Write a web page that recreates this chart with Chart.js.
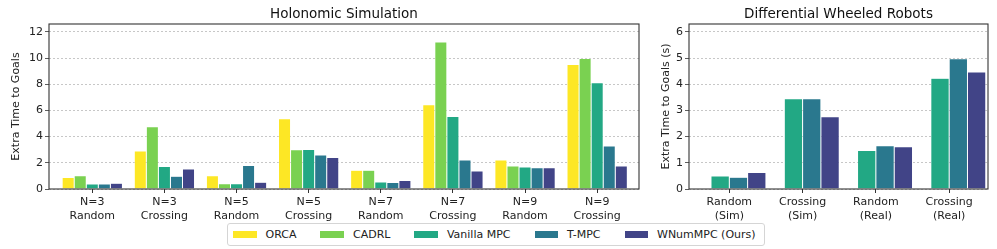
<!DOCTYPE html>
<html>
<head>
<meta charset="utf-8">
<script src="https://cdn.jsdelivr.net/npm/chart.js@4"></script>
<style>
  body { margin: 0; background: #fff; }
  #wrap { position: relative; width: 997px; height: 249px; }
  canvas { position: absolute; top: 0; }
  #legend {
    position: absolute; left: 227px; top: 223px; height: 21px;
    border: 1px solid #d5d5d5; border-radius: 3px; background: #fff;
    display: flex; align-items: center; padding: 0 8px 0 5px;
    font: 11px "DejaVu Sans"; color: #222; white-space: nowrap;
  }
  .item { display: flex; align-items: center; margin-right: 24px; }
  .item:last-child { margin-right: 0; }
  .sw { width: 23.5px; height: 6.5px; margin-right: 9px; }
</style>
</head>
<body>
<div id="wrap">
  <canvas id="holo" width="645" height="249" style="left:0"></canvas>
  <canvas id="diff" width="352" height="249" style="left:645px"></canvas>
  <div id="legend"></div>
</div>
<script>
// methods + colours (viridis)
const methods = ['ORCA', 'CADRL', 'Vanilla MPC', 'T-MPC', 'WNumMPC (Ours)'];
const colors = ['#fde725', '#7ad151', '#22a884', '#2a788e', '#414487'];

// holonomic simulation
const holoLabels = [['N=3', 'Random'], ['N=3', 'Crossing'], ['N=5', 'Random'], ['N=5', 'Crossing'],
                    ['N=7', 'Random'], ['N=7', 'Crossing'], ['N=9', 'Random'], ['N=9', 'Crossing']];
const holoOrca    = [0.87, 2.91, 1.02, 5.36, 1.43, 6.43, 2.22, 9.50];
const holoCadrl   = [1.02, 4.75, 0.41, 2.99, 1.43, 11.23, 1.76, 9.96];
const holoVanilla = [0.38, 1.71, 0.41, 3.01, 0.54, 5.54, 1.68, 8.12];
const holoTmpc    = [0.38, 0.97, 1.79, 2.60, 0.49, 2.22, 1.63, 3.29];
const holoWnum    = [0.43, 1.53, 0.51, 2.40, 0.64, 1.38, 1.63, 1.76];
const holoTicks = [0, 2, 4, 6, 8, 10, 12];

// differential wheeled robots
const diffLabels = [['Random', '(Sim)'], ['Crossing', '(Sim)'], ['Random', '(Real)'], ['Crossing', '(Real)']];
const diffVanilla = [0.50, 3.45, 1.47, 4.23];
const diffTmpc    = [0.45, 3.45, 1.65, 4.97];
const diffWnum    = [0.63, 2.76, 1.61, 4.47];
const diffTicks = [0, 1, 2, 3, 4, 5, 6];

Chart.defaults.font.family = 'DejaVu Sans';
Chart.defaults.font.size = 11;
Chart.defaults.color = '#222';

// matplotlib style box around the axes
const frame = {
  id: 'frame',
  afterDraw(chart) {
    const { ctx, chartArea: a } = chart;
    ctx.save();
    ctx.setLineDash([]);
    ctx.strokeStyle = '#333';
    ctx.lineWidth = 1.1;
    ctx.strokeRect(a.left, a.top, a.right - a.left, a.bottom - a.top);
    ctx.restore();
  }
};

// xShift: the right panel's bar groups sit half a bar to the right of their ticks
function makeChart(id, title, yTitle, labels, series, colorIdx, yMax, yTicks, xMin, xMax, yWidth, padRight, catPct, yTitlePad, xShift) {
  const datasets = series.map((vals, k) => ({
    label: methods[colorIdx[k]],
    data: vals.map((v, i) => ({ x: i + xShift, y: v })),
    backgroundColor: colors[colorIdx[k]],
    borderColor: 'rgba(255,255,255,0.6)',
    borderWidth: 0.5,
    categoryPercentage: catPct,
    barPercentage: 1.0
  }));
  return new Chart(document.getElementById(id), {
    type: 'bar',
    data: { datasets },
    plugins: [frame],
    options: {
      responsive: false,
      animation: false,
      devicePixelRatio: 1,
      layout: { padding: { left: 0, right: padRight, top: 0, bottom: 0 } },
      plugins: {
        legend: { display: false },
        tooltip: { enabled: false },
        title: {
          display: true, text: title, fullSize: false,
          font: { size: 13.5, weight: 'normal' }, color: '#111',
          padding: { top: 6, bottom: 1.8 }
        }
      },
      scales: {
        x: {
          type: 'linear', min: xMin, max: xMax, offset: false,
          afterBuildTicks: s => { s.ticks = labels.map((_, i) => ({ value: i })); },
          afterFit: s => { s.height = 60; },
          ticks: { callback: v => labels[v], padding: 3, maxRotation: 0, autoSkip: false },
          grid: { offset: false, drawOnChartArea: false, tickLength: 4, tickColor: '#333' },
          border: { display: false }
        },
        y: {
          min: 0, max: yMax,
          afterBuildTicks: s => { s.ticks = yTicks.map(v => ({ value: v })); },
          afterFit: s => { s.width = yWidth; },
          ticks: { padding: 2 },
          title: { display: true, text: yTitle, padding: { top: yTitlePad, bottom: 0 } },
          grid: { color: 'rgba(0,0,0,0.28)', lineWidth: 0.8, tickLength: 4, tickColor: '#333', tickBorderDash: [] },
          border: { display: false, dash: [2, 2] }
        }
      }
    }
  });
}

makeChart('holo', 'Holonomic Simulation', 'Extra Time to Goals', holoLabels,
  [holoOrca, holoCadrl, holoVanilla, holoTmpc, holoWnum], [0, 1, 2, 3, 4],
  12.6, holoTicks, -0.6, 7.58, 49, 6, 0.836, 10, 0);

makeChart('diff', 'Differential Wheeled Robots', 'Extra Time to Goals (s)', diffLabels,
  [diffVanilla, diffTmpc, diffWnum], [2, 3, 4],
  6.3, diffTicks, -0.55, 3.53, 44, 9, 0.75, 15, 0.125);

// shared legend
const legend = document.getElementById('legend');
methods.forEach((m, i) => {
  const item = document.createElement('div');
  item.className = 'item';
  item.innerHTML = `<span class="sw" style="background:${colors[i]}"></span><span>${m}</span>`;
  legend.appendChild(item);
});
</script>
</body>
</html>
